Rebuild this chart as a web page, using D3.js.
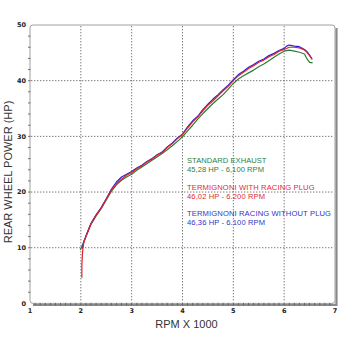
<!DOCTYPE html>
<html><head><meta charset="utf-8">
<script src="https://cdn.jsdelivr.net/npm/d3@7"></script>
<style>html,body{margin:0;padding:0;background:#fff}svg{display:block}</style>
</head><body>
<svg id="c" width="350" height="350"></svg>
<script>
const xTicks = [1,2,3,4,5,6,7];
const yTicks = [0,10,20,30,40,50];

const rpmGreen = [1.99,2.05,2.1,2.2,2.3,2.4,2.5,2.6,2.7,2.8,2.9,3.0,3.1,3.2,3.3,3.4,3.5,3.6,3.7,3.8,3.9,4.0,4.1,4.2,4.3,4.4,4.5,4.6,4.7,4.8,4.9,5.0,5.1,5.2,5.3,5.4,5.5,5.6,5.7,5.8,5.9,6.0,6.1,6.2,6.3,6.4,6.45,6.5,6.56];
const hpGreen  = [9.6,10.9,12.0,14.2,15.7,17.0,18.6,20.1,21.3,22.1,22.7,23.2,23.9,24.5,25.1,25.7,26.3,26.9,27.6,28.3,29.1,29.9,31.0,32.0,33.1,34.1,35.0,35.9,36.7,37.5,38.5,39.5,40.3,40.9,41.4,41.9,42.5,43.0,43.6,44.2,44.8,45.3,45.5,45.3,45.1,44.8,43.9,43.3,43.2];

const rpmRed = [2.02,2.02,2.03,2.04,2.06,2.1,2.2,2.3,2.4,2.5,2.6,2.7,2.8,2.9,3.0,3.1,3.2,3.3,3.4,3.5,3.6,3.7,3.8,3.9,4.0,4.1,4.2,4.3,4.4,4.5,4.6,4.7,4.8,4.9,5.0,5.1,5.2,5.3,5.4,5.5,5.6,5.7,5.8,5.9,6.0,6.1,6.15,6.2,6.3,6.4,6.45,6.5,6.55];
const hpRed  = [4.6,6.8,8.6,9.9,11.0,12.0,14.3,15.8,17.1,18.7,20.3,21.5,22.3,23.0,23.5,24.2,24.7,25.4,25.9,26.6,27.1,28.0,28.7,29.6,30.3,31.5,32.6,33.5,34.6,35.6,36.4,37.3,38.2,39.0,40.0,40.9,41.5,42.2,42.7,43.3,43.7,44.3,44.7,45.3,45.6,46.0,46.0,46.0,45.9,45.5,45.1,44.5,43.8];

const rpmBlue = [2.03,2.06,2.1,2.2,2.3,2.4,2.5,2.6,2.7,2.8,2.9,3.0,3.1,3.2,3.3,3.4,3.5,3.6,3.7,3.8,3.9,4.0,4.1,4.2,4.3,4.4,4.5,4.6,4.7,4.8,4.9,5.0,5.1,5.2,5.3,5.4,5.5,5.6,5.7,5.8,5.9,6.0,6.05,6.1,6.2,6.3,6.4,6.45,6.5,6.55];
const hpBlue  = [9.9,11.1,12.1,14.4,15.9,17.2,18.8,20.5,21.8,22.7,23.2,23.7,24.3,24.8,25.5,26.0,26.7,27.2,28.1,28.8,29.7,30.4,31.7,32.8,33.6,34.8,35.8,36.7,37.5,38.4,39.2,40.2,41.1,41.7,42.4,42.9,43.5,43.9,44.5,44.9,45.4,45.8,46.2,46.4,46.2,46.1,45.6,45.2,44.6,43.9];

const seriesNames = ["STANDARD EXHAUST","TERMIGNONI WITH RACING PLUG","TERMIGNONI RACING WITHOUT PLUG"];
const seriesPeaks = ["45,28 HP - 6,100 RPM","46,02 HP - 6.200 RPM","46,36 HP - 6.100 RPM"];

const svg = d3.select("#c");
const L=30, R=335, T=25, B=303.4;
const x = d3.scaleLinear().domain([1,7]).range([L,R]);
const y = d3.scaleLinear().domain([0,50]).range([B,T]);

// shadow
svg.append("path")
  .attr("d", `M${R+1.5},${T+3} L${R+1.5},${B+1.5} L${L+3},${B+1.5}`)
  .attr("fill","none").attr("stroke","#8a8a8a").attr("stroke-width",2.2);
// frame
svg.append("rect").attr("x",L).attr("y",T).attr("width",R-L).attr("height",B-T)
  .attr("rx",3).attr("fill","#fff").attr("stroke","#a0a0a0").attr("stroke-width",1);

// grid
const g = svg.append("g").attr("stroke","#6a6a6a").attr("stroke-width",0.9).attr("stroke-dasharray","1.4,1.6");
[2,3,4,5,6].forEach(v=>g.append("line").attr("x1",x(v)).attr("x2",x(v)).attr("y1",T+1).attr("y2",B-1));
[10,20,30,40].forEach(v=>g.append("line").attr("y1",y(v)).attr("y2",y(v)).attr("x1",L+1).attr("x2",R-1));

// minor ticks
const tk = svg.append("g").attr("stroke","#555").attr("stroke-width",0.8);
d3.range(1.1,7,0.1).forEach(v=>tk.append("line").attr("x1",x(v)).attr("x2",x(v)).attr("y1",B-0.5).attr("y2",B+2));
d3.range(2,50,2).forEach(v=>tk.append("line").attr("y1",y(v)).attr("y2",y(v)).attr("x1",L-2).attr("x2",L+0.5));

// tick labels
const tl = svg.append("g").attr("font-family","DejaVu Sans, sans-serif").attr("font-weight","bold").attr("font-size","6.5px").attr("fill","#222");
yTicks.forEach(v=>tl.append("text").attr("x",L-4).attr("y",y(v)).attr("dy","0.35em").attr("text-anchor","end").text(v));
xTicks.forEach(v=>tl.append("text").attr("x",x(v)).attr("y",B+10).attr("text-anchor","middle").text(v));

// axis titles
svg.append("text").attr("x",(L+R)/2+4).attr("y",328).attr("text-anchor","middle")
  .attr("font-family","Liberation Sans, Arial, sans-serif").attr("font-size","11px").attr("fill","#333").text("RPM X 1000");
svg.append("text").attr("transform",`translate(11.5,${172}) rotate(-90)`).attr("text-anchor","middle")
  .attr("font-family","Liberation Sans, Arial, sans-serif").attr("font-size","11px").attr("fill","#333").text("REAR WHEEL POWER (HP)");

// lines
const line = d3.line().x(d=>x(d[0])).y(d=>y(d[1]));
const colors = ["#2a7d35","#e3202a","#2424d8"];
const data = [d3.zip(rpmGreen,hpGreen), d3.zip(rpmRed,hpRed), d3.zip(rpmBlue,hpBlue)];
[0,2,1].forEach(i=>svg.append("path").datum(data[i]).attr("d",line)
  .attr("fill","none").attr("stroke",colors[i]).attr("stroke-width",1.2).attr("stroke-linejoin","round"));

// legend
const txtColors = ["#2f7f3c","#e02a30","#3434c8"];
const nameW = [79.5,127.6,144];
const peakW = [77,78,78];
const lg = svg.append("g").attr("font-family","Liberation Sans, Arial, sans-serif").attr("font-size","7.6px");
const base = [163.3,190,216];
seriesNames.forEach((n,i)=>{
  lg.append("text").attr("x",187).attr("y",base[i]).attr("fill",txtColors[i])
    .attr("textLength",nameW[i]).attr("lengthAdjust","spacing").text(n);
  lg.append("text").attr("x",187).attr("y",base[i]+8.7).attr("fill",txtColors[i])
    .attr("textLength",peakW[i]).attr("lengthAdjust","spacing").text(seriesPeaks[i]);
});
</script>
</body></html>
